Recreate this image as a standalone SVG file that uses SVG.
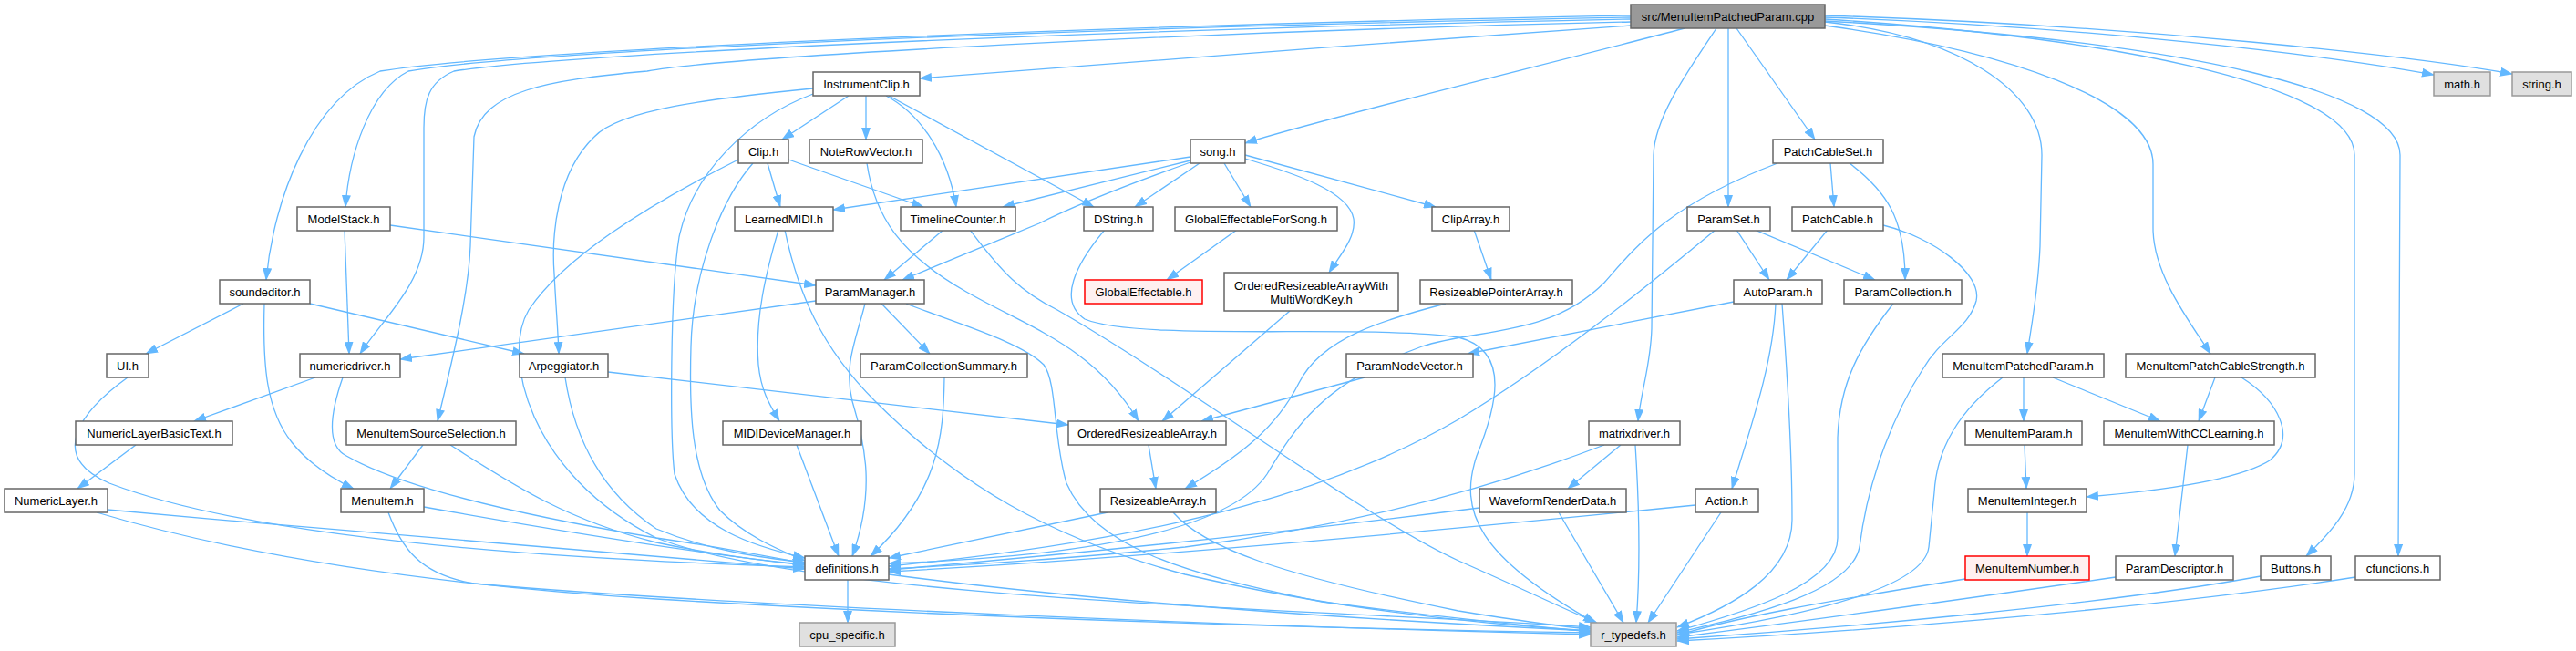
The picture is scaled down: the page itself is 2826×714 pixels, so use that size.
<svg xmlns="http://www.w3.org/2000/svg" width="2826" height="714" viewBox="0 0 2826 714">
<style>
.e{fill:none;stroke:#63b8ff;stroke-width:1.3;marker-end:url(#ah)}
.n rect{fill:#ffffff;stroke:#666666;stroke-width:1.5}
.r rect{fill:#999999;stroke:#666666;stroke-width:1.5}
.x rect{fill:#e0e0e0;stroke:#999999;stroke-width:1.5}
.t rect{fill:#fff0f0;stroke:#ff0000;stroke-width:1.5}
text{font-family:"Liberation Sans",Arial,sans-serif;font-size:13px;text-anchor:middle;fill:#000000}
</style>
<defs>
<marker id="ah" markerUnits="userSpaceOnUse" markerWidth="14" markerHeight="10" viewBox="0 0 14 10" refX="13" refY="5" orient="auto">
<path d="M0,0 L14,5 L0,10 z" fill="#63b8ff"/>
</marker>
</defs>
<rect x="0" y="0" width="2826" height="714" fill="#ffffff"/>
<g id="edges">
<path class="e" d="M1789,28 C1550,45 1200,70 1009,86"/>
<path class="e" d="M1789,19 C1100,32 560,58 448,78 C405,100 383,170 379,227"/>
<path class="e" d="M1789,17 C1100,30 540,58 417,78 C340,110 300,220 292,307"/>
<path class="e" d="M1789,21 C1100,35 600,62 498,78 C470,90 465,110 465,140 L465,260 C465,310 420,350 395,388"/>
<path class="e" d="M1789,24 C1300,35 800,62 710,78 C600,88 530,100 520,150 L516,270 C514,320 500,380 480,462"/>
<path class="e" d="M1848,31 C1700,70 1450,130 1366,157"/>
<path class="e" d="M1883,31 C1850,80 1815,130 1814,170 L1812,360 C1811,400 1800,430 1797,462"/>
<path class="e" d="M1896,31 L1896,227"/>
<path class="e" d="M1905,31 L1991,153"/>
<path class="e" d="M2002,19 C2300,30 2550,60 2670,82"/>
<path class="e" d="M2002,17 C2350,28 2650,62 2756,81"/>
<path class="e" d="M2002,24 C2150,40 2240,100 2240,170 L2238,270 C2236,320 2228,360 2224,388"/>
<path class="e" d="M2002,28 C2200,55 2362,110 2362,180 L2362,250 C2362,300 2400,350 2425,388"/>
<path class="e" d="M2002,21 C2300,40 2583,90 2583,170 L2583,520 C2583,560 2550,590 2530,610"/>
<path class="e" d="M2002,23 C2400,45 2633,100 2633,170 L2631,610"/>
<path class="e" d="M931,105 L858,153"/>
<path class="e" d="M950,105 L950,153"/>
<path class="e" d="M972,105 C1010,125 1040,170 1049,227"/>
<path class="e" d="M975,105 L1200,227"/>
<path class="e" d="M892,97 C780,108 680,120 652,150 C610,190 605,260 608,300 C610,340 612,360 613,388"/>
<path class="e" d="M892,103 C820,130 760,190 745,260 C735,320 735,480 740,520 C760,580 830,600 883,612"/>
<path class="e" d="M842,179 L856,227"/>
<path class="e" d="M865,175 L1013,227"/>
<path class="e" d="M826,179 C790,220 760,300 758,380 C756,450 758,520 790,560 C820,590 860,605 883,615"/>
<path class="e" d="M810,175 C720,220 620,280 580,340 C550,390 580,520 720,590 C900,660 1500,670 1745,688"/>
<path class="e" d="M951,179 C960,240 990,280 1060,320 C1130,360 1200,380 1249,462"/>
<path class="e" d="M1306,172 L914,230"/>
<path class="e" d="M1306,176 L1100,227"/>
<path class="e" d="M1316,179 L1245,227"/>
<path class="e" d="M1343,179 L1372,227"/>
<path class="e" d="M1306,178 C1230,205 1180,225 1140,245 C1080,270 1030,290 990,307"/>
<path class="e" d="M1366,170 L1575,227"/>
<path class="e" d="M1366,174 C1420,190 1480,210 1485,240 C1488,260 1470,280 1458,299"/>
<path class="e" d="M854,252 C840,300 828,350 832,400 C835,430 845,445 855,462"/>
<path class="e" d="M861,252 C875,320 900,380 960,440 C1050,530 1150,590 1300,630 C1450,665 1600,683 1745,692"/>
<path class="e" d="M1035,252 L970,307"/>
<path class="e" d="M1064,252 C1100,300 1120,320 1160,340 C1300,420 1500,570 1600,615 C1680,650 1720,670 1752,683"/>
<path class="e" d="M1212,252 C1180,290 1160,330 1190,350 C1250,375 1500,355 1600,370 C1660,385 1640,450 1620,500 C1600,560 1620,610 1750,683"/>
<path class="e" d="M1357,252 L1280,307"/>
<path class="e" d="M1617,252 L1636,307"/>
<path class="e" d="M428,247 L895,313"/>
<path class="e" d="M378,252 L383,388"/>
<path class="e" d="M267,333 L160,388"/>
<path class="e" d="M290,333 C288,400 292,450 320,485 C340,510 365,525 388,536"/>
<path class="e" d="M340,333 L575,388"/>
<path class="e" d="M895,330 L439,394"/>
<path class="e" d="M967,333 L1020,388"/>
<path class="e" d="M949,333 C940,370 925,400 935,440 C950,490 960,540 935,610"/>
<path class="e" d="M994,333 C1050,355 1120,375 1145,400 C1160,420 1155,480 1170,530 C1200,600 1300,630 1450,660 C1600,680 1700,688 1745,693"/>
<path class="e" d="M1036,414 C1035,480 1030,540 955,610"/>
<path class="e" d="M1415,341 L1275,462"/>
<path class="e" d="M1586,333 C1520,350 1450,370 1425,420 C1400,470 1360,500 1300,536"/>
<path class="e" d="M1950,179 C1830,225 1795,270 1760,310 C1700,370 1620,360 1560,380 C1450,420 1420,470 1390,520 C1350,580 1200,610 975,618"/>
<path class="e" d="M1902,331 C1800,350 1700,370 1610,388"/>
<path class="e" d="M1948,333 C1945,400 1920,470 1900,536"/>
<path class="e" d="M1955,333 C1960,400 1966,500 1966,570 C1966,630 1900,665 1840,688"/>
<path class="e" d="M2077,333 C2040,380 2018,420 2016,480 L2016,590 C2016,640 1920,670 1840,692"/>
<path class="e" d="M2005,252 L1960,307"/>
<path class="e" d="M2066,247 C2120,260 2175,300 2168,330 C2160,360 2130,370 2110,404 C2080,450 2050,520 2040,600 C2030,650 1920,675 1840,694"/>
<path class="e" d="M2008,179 L2012,227"/>
<path class="e" d="M2029,179 C2070,210 2090,240 2090,307"/>
<path class="e" d="M1905,252 L1941,307"/>
<path class="e" d="M1925,252 L2057,307"/>
<path class="e" d="M1882,252 C1800,320 1700,400 1600,460 C1480,530 1300,590 975,621"/>
<path class="e" d="M346,414 L213,462"/>
<path class="e" d="M376,414 C360,460 360,490 380,500 C450,540 600,570 720,590 C790,600 840,610 883,618"/>
<path class="e" d="M667,408 L1172,466"/>
<path class="e" d="M620,414 C630,480 660,540 720,580 C780,605 840,612 883,617"/>
<path class="e" d="M140,414 C90,450 50,500 120,530 C250,580 500,610 883,622"/>
<path class="e" d="M2220,414 L2220,462"/>
<path class="e" d="M2252,414 L2370,462"/>
<path class="e" d="M2197,414 C2150,450 2125,490 2122,540 L2116,600 C2110,650 1950,680 1840,696"/>
<path class="e" d="M2430,414 L2412,462"/>
<path class="e" d="M2459,414 C2500,440 2520,480 2490,505 C2450,530 2350,540 2289,545"/>
<path class="e" d="M2221,488 L2223,536"/>
<path class="e" d="M2400,488 L2386,610"/>
<path class="e" d="M2224,562 L2224,610"/>
<path class="e" d="M2156,635 C2000,660 1900,678 1840,697"/>
<path class="e" d="M2321,633 C2100,665 1950,685 1840,699"/>
<path class="e" d="M2480,632 C2300,665 2000,690 1840,701"/>
<path class="e" d="M2584,633 C2350,670 2000,695 1840,703"/>
<path class="e" d="M149,488 L85,536"/>
<path class="e" d="M464,488 L428,536"/>
<path class="e" d="M494,488 C560,530 620,570 720,595 C790,610 840,615 883,619"/>
<path class="e" d="M874,488 L920,610"/>
<path class="e" d="M1260,488 L1268,536"/>
<path class="e" d="M1497,414 L1318,462"/>
<path class="e" d="M1215,562 L975,612"/>
<path class="e" d="M1287,562 C1320,600 1400,630 1600,670 C1680,683 1720,688 1745,690"/>
<path class="e" d="M1760,488 C1650,530 1500,575 1300,600 C1150,615 1050,620 975,624"/>
<path class="e" d="M1778,488 L1720,536"/>
<path class="e" d="M1794,488 C1798,550 1800,620 1795,683"/>
<path class="e" d="M1623,557 C1400,585 1150,610 975,625"/>
<path class="e" d="M1710,562 L1781,683"/>
<path class="e" d="M1860,554 C1500,590 1200,615 975,627"/>
<path class="e" d="M1888,562 L1808,683"/>
<path class="e" d="M118,559 C400,585 700,610 883,624"/>
<path class="e" d="M106,562 C250,605 450,640 720,657 C1100,680 1500,690 1745,694"/>
<path class="e" d="M465,556 C600,580 750,605 883,620"/>
<path class="e" d="M426,562 C440,600 460,630 520,640 C800,665 1400,688 1745,696"/>
<path class="e" d="M930,636 L930,683"/>
<path class="e" d="M975,630 C1200,660 1500,680 1745,692"/>
</g>
<g id="node-src" class="r"><rect x="1789" y="5" width="213" height="26"/><text x="1895.5" y="22.5">src/MenuItemPatchedParam.cpp</text></g>
<g id="node-InstrumentClip" class="n"><rect x="892" y="79" width="117" height="26"/><text x="950.5" y="96.5">InstrumentClip.h</text></g>
<g id="node-math" class="x"><rect x="2670" y="79" width="62" height="26"/><text x="2701" y="96.5">math.h</text></g>
<g id="node-string" class="x"><rect x="2756" y="79" width="65" height="26"/><text x="2788.5" y="96.5">string.h</text></g>
<g id="node-Clip" class="n"><rect x="810" y="153" width="55" height="26"/><text x="837.5" y="170.5">Clip.h</text></g>
<g id="node-NoteRowVector" class="n"><rect x="888" y="153" width="124" height="26"/><text x="950" y="170.5">NoteRowVector.h</text></g>
<g id="node-song" class="n"><rect x="1306" y="153" width="60" height="26"/><text x="1336" y="170.5">song.h</text></g>
<g id="node-PatchCableSet" class="n"><rect x="1945" y="153" width="121" height="26"/><text x="2005.5" y="170.5">PatchCableSet.h</text></g>
<g id="node-ModelStack" class="n"><rect x="326" y="227" width="102" height="26"/><text x="377" y="244.5">ModelStack.h</text></g>
<g id="node-LearnedMIDI" class="n"><rect x="806" y="227" width="108" height="26"/><text x="860" y="244.5">LearnedMIDI.h</text></g>
<g id="node-TimelineCounter" class="n"><rect x="988" y="227" width="126" height="26"/><text x="1051" y="244.5">TimelineCounter.h</text></g>
<g id="node-DString" class="n"><rect x="1189" y="227" width="76" height="26"/><text x="1227" y="244.5">DString.h</text></g>
<g id="node-GlobalEffectableForSong" class="n"><rect x="1289" y="227" width="178" height="26"/><text x="1378" y="244.5">GlobalEffectableForSong.h</text></g>
<g id="node-ClipArray" class="n"><rect x="1571" y="227" width="85" height="26"/><text x="1613.5" y="244.5">ClipArray.h</text></g>
<g id="node-ParamSet" class="n"><rect x="1851" y="227" width="91" height="26"/><text x="1896.5" y="244.5">ParamSet.h</text></g>
<g id="node-PatchCable" class="n"><rect x="1966" y="227" width="100" height="26"/><text x="2016" y="244.5">PatchCable.h</text></g>
<g id="node-soundeditor" class="n"><rect x="241" y="307" width="99" height="26"/><text x="290.5" y="324.5">soundeditor.h</text></g>
<g id="node-ParamManager" class="n"><rect x="895" y="307" width="119" height="26"/><text x="954.5" y="324.5">ParamManager.h</text></g>
<g id="node-GlobalEffectable" class="t"><rect x="1190" y="307" width="129" height="26"/><text x="1254.5" y="324.5">GlobalEffectable.h</text></g>
<g id="node-OrderedResizeableArrayWithMultiWordKey" class="n"><rect x="1343" y="299" width="191" height="42"/><text x="1438.5" y="317.5">OrderedResizeableArrayWith</text><text x="1438.5" y="332.5">MultiWordKey.h</text></g>
<g id="node-ResizeablePointerArray" class="n"><rect x="1558" y="307" width="167" height="26"/><text x="1641.5" y="324.5">ResizeablePointerArray.h</text></g>
<g id="node-AutoParam" class="n"><rect x="1902" y="307" width="97" height="26"/><text x="1950.5" y="324.5">AutoParam.h</text></g>
<g id="node-ParamCollection" class="n"><rect x="2023" y="307" width="129" height="26"/><text x="2087.5" y="324.5">ParamCollection.h</text></g>
<g id="node-UI" class="n"><rect x="117" y="388" width="46" height="26"/><text x="140" y="405.5">UI.h</text></g>
<g id="node-numericdriver" class="n"><rect x="329" y="388" width="110" height="26"/><text x="384" y="405.5">numericdriver.h</text></g>
<g id="node-Arpeggiator" class="n"><rect x="570" y="388" width="97" height="26"/><text x="618.5" y="405.5">Arpeggiator.h</text></g>
<g id="node-ParamCollectionSummary" class="n"><rect x="944" y="388" width="183" height="26"/><text x="1035.5" y="405.5">ParamCollectionSummary.h</text></g>
<g id="node-ParamNodeVector" class="n"><rect x="1477" y="388" width="139" height="26"/><text x="1546.5" y="405.5">ParamNodeVector.h</text></g>
<g id="node-MenuItemPatchedParamH" class="n"><rect x="2131" y="388" width="177" height="26"/><text x="2219.5" y="405.5">MenuItemPatchedParam.h</text></g>
<g id="node-MenuItemPatchCableStrength" class="n"><rect x="2332" y="388" width="208" height="26"/><text x="2436" y="405.5">MenuItemPatchCableStrength.h</text></g>
<g id="node-NumericLayerBasicText" class="n"><rect x="83" y="462" width="172" height="26"/><text x="169" y="479.5">NumericLayerBasicText.h</text></g>
<g id="node-MenuItemSourceSelection" class="n"><rect x="380" y="462" width="186" height="26"/><text x="473" y="479.5">MenuItemSourceSelection.h</text></g>
<g id="node-MIDIDeviceManager" class="n"><rect x="793" y="462" width="152" height="26"/><text x="869" y="479.5">MIDIDeviceManager.h</text></g>
<g id="node-OrderedResizeableArray" class="n"><rect x="1172" y="462" width="173" height="26"/><text x="1258.5" y="479.5">OrderedResizeableArray.h</text></g>
<g id="node-matrixdriver" class="n"><rect x="1743" y="462" width="100" height="26"/><text x="1793" y="479.5">matrixdriver.h</text></g>
<g id="node-MenuItemParam" class="n"><rect x="2156" y="462" width="128" height="26"/><text x="2220" y="479.5">MenuItemParam.h</text></g>
<g id="node-MenuItemWithCCLearning" class="n"><rect x="2308" y="462" width="187" height="26"/><text x="2401.5" y="479.5">MenuItemWithCCLearning.h</text></g>
<g id="node-NumericLayer" class="n"><rect x="5" y="536" width="113" height="26"/><text x="61.5" y="553.5">NumericLayer.h</text></g>
<g id="node-MenuItem" class="n"><rect x="374" y="536" width="91" height="26"/><text x="419.5" y="553.5">MenuItem.h</text></g>
<g id="node-ResizeableArray" class="n"><rect x="1207" y="536" width="127" height="26"/><text x="1270.5" y="553.5">ResizeableArray.h</text></g>
<g id="node-WaveformRenderData" class="n"><rect x="1623" y="536" width="161" height="26"/><text x="1703.5" y="553.5">WaveformRenderData.h</text></g>
<g id="node-Action" class="n"><rect x="1860" y="536" width="69" height="26"/><text x="1894.5" y="553.5">Action.h</text></g>
<g id="node-MenuItemInteger" class="n"><rect x="2159" y="536" width="130" height="26"/><text x="2224" y="553.5">MenuItemInteger.h</text></g>
<g id="node-definitions" class="n"><rect x="883" y="610" width="92" height="26"/><text x="929" y="627.5">definitions.h</text></g>
<g id="node-MenuItemNumber" class="t"><rect x="2156" y="610" width="136" height="26"/><text x="2224" y="627.5">MenuItemNumber.h</text></g>
<g id="node-ParamDescriptor" class="n"><rect x="2321" y="610" width="129" height="26"/><text x="2385.5" y="627.5">ParamDescriptor.h</text></g>
<g id="node-Buttons" class="n"><rect x="2480" y="610" width="77" height="26"/><text x="2518.5" y="627.5">Buttons.h</text></g>
<g id="node-cfunctions" class="n"><rect x="2584" y="610" width="93" height="26"/><text x="2630.5" y="627.5">cfunctions.h</text></g>
<g id="node-cpu_specific" class="x"><rect x="877" y="683" width="105" height="26"/><text x="929.5" y="700.5">cpu_specific.h</text></g>
<g id="node-r_typedefs" class="x"><rect x="1745" y="683" width="94" height="26"/><text x="1792" y="700.5">r_typedefs.h</text></g>
</svg>
